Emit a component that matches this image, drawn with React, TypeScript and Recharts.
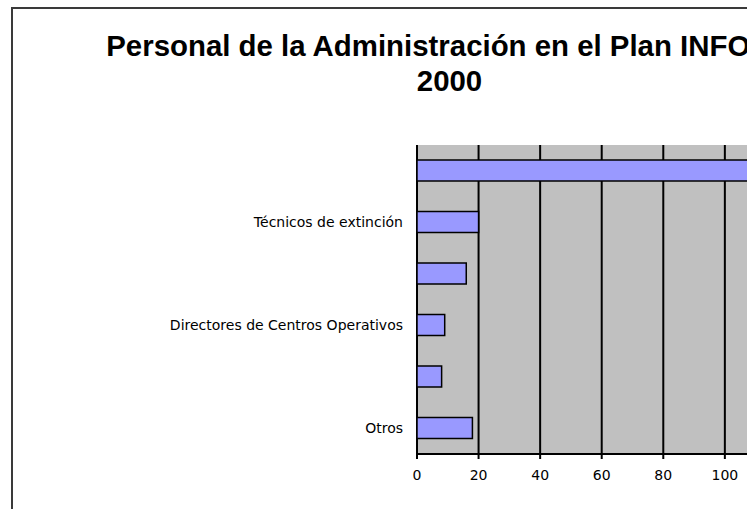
import { BarChart, Bar, XAxis, YAxis, CartesianGrid, ReferenceLine } from 'recharts';

// categories listed bottom -> top (Excel order)
const categories = [
  'Otros',
  'Jefes de Servicio',
  'Directores de Centros Operativos',
  'Técnicos de Centros Operativos',
  'Técnicos de extinción',
  'Agentes de Medio Ambiente',
];
const personal = [18, 8, 9, 16, 20, 118];
const xTicks = [0, 20, 40, 60, 80, 100, 120, 140];
const edgeTicks = [0, 1, 2, 3, 4, 5, 6];

const data = categories.map((name, i) => ({ name, value: personal[i] }));

const AXIS_FONT = { fontSize: 14, fontFamily: 'DejaVu Sans', fill: '#000' };

export default function App() {
  return (
    <div
      style={{
        position: 'absolute',
        left: 0,
        top: 0,
        width: 747,
        height: 509,
        overflow: 'hidden',
        background: '#fff',
      }}
    >
      <div
        style={{
          position: 'absolute',
          left: 11,
          top: 7,
          width: 880,
          height: 560,
          border: '2px solid #3a3a3a',
          boxSizing: 'border-box',
        }}
      />
      <div
        style={{
          position: 'absolute',
          left: 11,
          top: 28,
          width: 877,
          textAlign: 'center',
          fontFamily: '"Liberation Sans", Arial, sans-serif',
          fontWeight: 'bold',
          fontSize: 29.4,
          lineHeight: '35px',
          color: '#000',
          whiteSpace: 'nowrap',
        }}
      >
        Personal de la Administración en el Plan INFOCA
        <br />
        2000
      </div>
      <div style={{ position: 'absolute', left: 0, top: 0 }}>
        <BarChart
          width={880}
          height={540}
          data={data}
          layout="vertical"
          margin={{ top: 145, right: 32, bottom: 46, left: 0 }}
        >
          <CartesianGrid
            horizontal={false}
            fill="#C0C0C0"
            fillOpacity={1}
            stroke="#000"
            strokeWidth={2}
          />
          <XAxis
            type="number"
            domain={[0, 140]}
            ticks={xTicks}
            allowDataOverflow
            height={40}
            tickSize={5}
            tickMargin={11}
            tick={AXIS_FONT}
            stroke="#000"
            axisLine={{ stroke: '#000', strokeWidth: 2 }}
            tickLine={{ stroke: '#000', strokeWidth: 2 }}
          />
          {/* plain axis carrying the axis line and the ticks between categories */}
          <YAxis
            yAxisId={0}
            type="number"
            domain={[0, 6]}
            ticks={edgeTicks}
            allowDataOverflow
            width={0}
            tick={false}
            tickSize={5}
            axisLine={{ stroke: '#000', strokeWidth: 2 }}
            tickLine={{ stroke: '#000', strokeWidth: 2 }}
          />
          <YAxis
            yAxisId="cat"
            type="category"
            dataKey="name"
            reversed
            interval={1}
            width={417}
            tickSize={0}
            tickMargin={14}
            axisLine={false}
            tickLine={false}
            tick={AXIS_FONT}
          />
          <ReferenceLine yAxisId={0} y={6} stroke="#9a9a9a" strokeWidth={1.5} />
          <Bar
            yAxisId="cat"
            dataKey="value"
            fill="#9999FF"
            stroke="#000"
            strokeWidth={1.5}
            barSize={21}
            isAnimationActive={false}
          />
        </BarChart>
      </div>
    </div>
  );
}
